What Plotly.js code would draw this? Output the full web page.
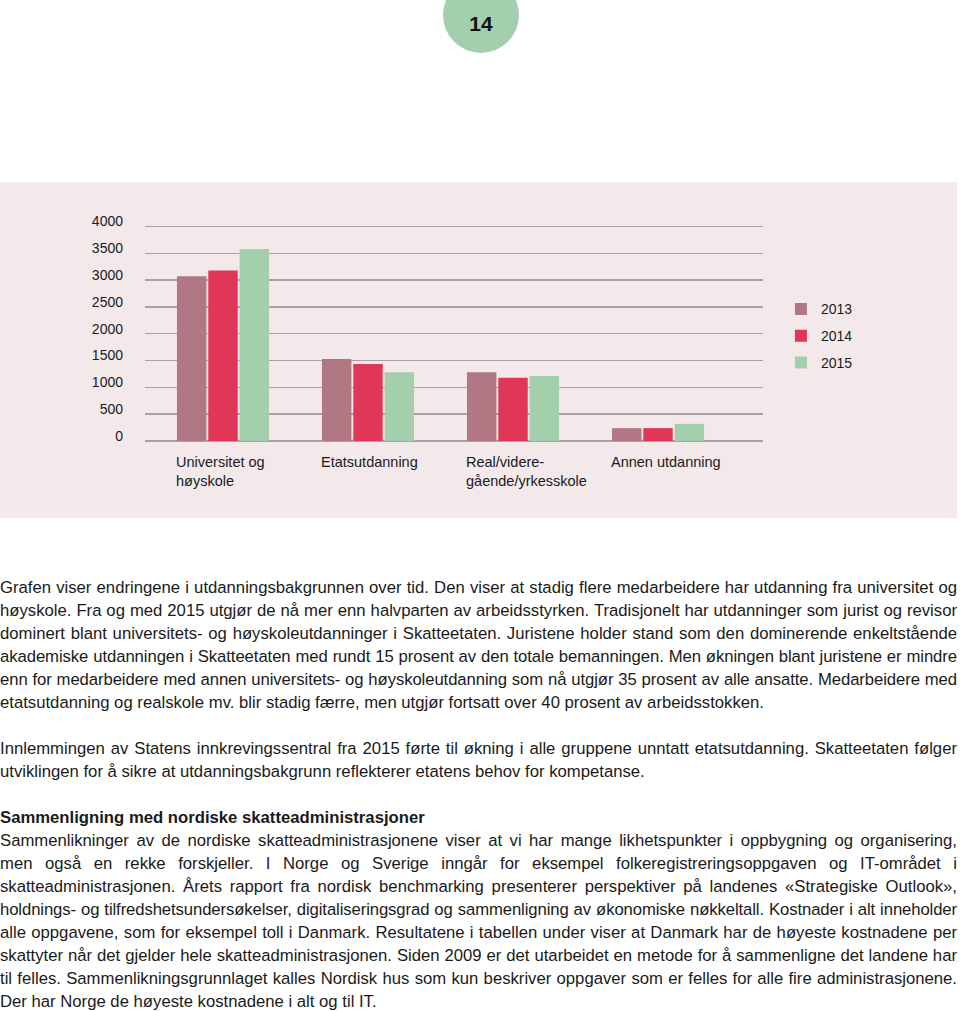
<!DOCTYPE html>
<html>
<head>
<meta charset="utf-8">
<script src="https://cdn.plot.ly/plotly-3.0.1.min.js"></script>
<style>
  html, body { margin: 0; padding: 0; background: #ffffff; width: 960px; height: 1011px; overflow: hidden; }
  #badge { position: absolute; left: 443px; top: -23px; width: 76px; height: 76px; border-radius: 50%; background: #a4cfae; }
  #badgeText { position: absolute; left: 443px; top: 10px; width: 76px; text-align: center; font-family: "Liberation Sans", Arial, sans-serif; font-weight: bold; font-size: 21px; line-height: 28px; color: #111; }
  #chart { position: absolute; left: 0; top: 182px; width: 957px; height: 336px; }
  #text { position: absolute; left: 0; top: 576px; width: 957px; font-family: "Liberation Sans", Arial, sans-serif; font-size: 16.7px; line-height: 23px; color: #1a1a1a; }
  #text .j { text-align: justify; text-align-last: justify; white-space: nowrap; height: 23px; }
  #text .l { text-align: left; white-space: nowrap; height: 23px; }
  #text .b { font-weight: bold; }
</style>
</head>
<body>
<div id="badge"></div>
<div id="badgeText">14</div>
<div id="chart"></div>
<div id="text">
  <div class="j">Grafen viser endringene i utdanningsbakgrunnen over tid. Den viser at stadig flere medarbeidere har utdanning fra universitet og</div>
  <div class="j">høyskole. Fra og med 2015 utgjør de nå mer enn halvparten av arbeidsstyrken. Tradisjonelt har utdanninger som jurist og revisor</div>
  <div class="j">dominert blant universitets- og høyskoleutdanninger i Skatteetaten. Juristene holder stand som den dominerende enkeltstående</div>
  <div class="j">akademiske utdanningen i Skatteetaten med rundt 15 prosent av den totale bemanningen. Men økningen blant juristene er mindre</div>
  <div class="j">enn for medarbeidere med annen universitets- og høyskoleutdanning som nå utgjør 35 prosent av alle ansatte. Medarbeidere med</div>
  <div class="l">etatsutdanning og realskole mv. blir stadig færre, men utgjør fortsatt over 40 prosent av arbeidsstokken.</div>
  <div class="l"></div>
  <div class="j">Innlemmingen av Statens innkrevingssentral fra 2015 førte til økning i alle gruppene unntatt etatsutdanning. Skatteetaten følger</div>
  <div class="l">utviklingen for å sikre at utdanningsbakgrunn reflekterer etatens behov for kompetanse.</div>
  <div class="l"></div>
  <div class="l b">Sammenligning med nordiske skatteadministrasjoner</div>
  <div class="j">Sammenlikninger av de nordiske skatteadministrasjonene viser at vi har mange likhetspunkter i oppbygning og organisering,</div>
  <div class="j">men også en rekke forskjeller. I Norge og Sverige inngår for eksempel folkeregistreringsoppgaven og IT-området i</div>
  <div class="j">skatteadministrasjonen. Årets rapport fra nordisk benchmarking presenterer perspektiver på landenes «Strategiske Outlook»,</div>
  <div class="j">holdnings- og tilfredshetsundersøkelser, digitaliseringsgrad og sammenligning av økonomiske nøkkeltall. Kostnader i alt inneholder</div>
  <div class="j">alle oppgavene, som for eksempel toll i Danmark. Resultatene i tabellen under viser at Danmark har de høyeste kostnadene per</div>
  <div class="j">skattyter når det gjelder hele skatteadministrasjonen. Siden 2009 er det utarbeidet en metode for å sammenligne det landene har</div>
  <div class="j">til felles. Sammenlikningsgrunnlaget kalles Nordisk hus som kun beskriver oppgaver som er felles for alle fire administrasjonene.</div>
  <div class="l">Der har Norge de høyeste kostnadene i alt og til IT.</div>
</div>
<script>
const categories = ['Universitet og<br>høyskole', 'Etatsutdanning', 'Real/videre-<br>gående/yrkesskole', 'Annen utdanning'];
const years = ['2013', '2014', '2015'];
const values2013 = [3070, 1530, 1280, 240];
const values2014 = [3180, 1435, 1180, 240];
const values2015 = [3580, 1280, 1210, 320];
const yTicks = [0, 500, 1000, 1500, 2000, 2500, 3000, 3500, 4000];
const colors = ['#b07882', '#e03657', '#a3cfac'];

// fit justified lines that would overflow the text column
(function fitLines() {
  const W = 957;
  document.querySelectorAll('#text .j').forEach(div => {
    const span = document.createElement('span');
    span.textContent = div.textContent;
    span.style.whiteSpace = 'nowrap';
    span.style.visibility = 'hidden';
    span.style.position = 'absolute';
    div.appendChild(span);
    const w = span.getBoundingClientRect().width;
    div.removeChild(span);
    if (w > W - 4) {
      const n = div.textContent.length;
      div.style.letterSpacing = ((W - 6 - w) / n).toFixed(3) + 'px';
    }
  });
})();

const series = [values2013, values2014, values2015];
const traces = series.map((vals, i) => ({
  type: 'bar',
  name: years[i],
  x: categories,
  y: vals,
  marker: { color: colors[i], line: { width: 0 } },
  legendgroup: 'g' + i,
  hoverinfo: 'x+y+name'
}));

const font = { family: '"Liberation Sans", Arial, sans-serif', size: 14, color: '#1a1a1a' };
const labelFont = { family: '"Liberation Sans", Arial, sans-serif', size: 14.5, color: '#1a1a1a' };

const annotations = categories.map(c => ({
  xref: 'x', yref: 'paper', x: c, y: 0,
  xanchor: 'left', yanchor: 'top', xshift: -49, yshift: -11,
  align: 'left', showarrow: false, text: c, font: labelFont
}));

const layout = {
  width: 957, height: 336,
  margin: { l: 145, r: 194, t: 41, b: 77 },
  paper_bgcolor: '#f3e9eb',
  plot_bgcolor: 'rgba(0,0,0,0)',
  font: font,
  barmode: 'group',
  bargap: 0.352,
  bargroupgap: 0.06,
  showlegend: true,
  legend: {
    x: 1.029, xanchor: 'left', y: 0.677, yanchor: 'top',
    bgcolor: 'rgba(0,0,0,0)', font: font,
    traceorder: 'grouped', tracegroupgap: 5.5
  },
  xaxis: {
    type: 'category',
    range: [-0.538, 3.724],
    showticklabels: false,
    showgrid: false, zeroline: false, showline: false, ticks: '',
    fixedrange: true
  },
  yaxis: {
    range: [0, 4065],
    tickvals: yTicks,
    ticktext: yTicks.map(String),
    showgrid: true, gridcolor: '#a9a1a3', gridwidth: 1.5,
    zeroline: true, zerolinecolor: '#a9a1a3', zerolinewidth: 1.5,
    showline: false, ticks: '',
    ticklabelstandoff: 21,
    ticklabelshift: -5,
    tickfont: font,
    fixedrange: true
  },
  annotations: annotations
};

Plotly.newPlot('chart', traces, layout, { displayModeBar: false, staticPlot: true });
</script>
</body>
</html>
